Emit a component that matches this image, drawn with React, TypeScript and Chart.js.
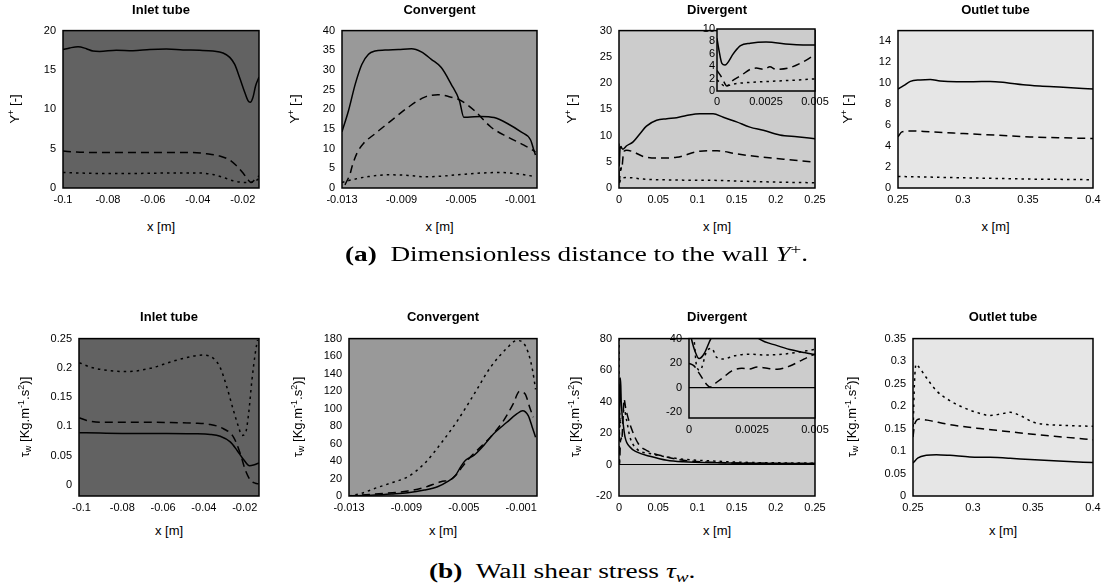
import React, { useEffect, useLayoutEffect, useRef } from "react";
import { Chart, registerables } from "chart.js";

Chart.register(...registerables);
Chart.defaults.font.family = "'Liberation Sans', Arial, sans-serif";
Chart.defaults.color = "#000";

type Pt = [number, number];

// ---------------- DATA ----------------
// Row (a): Y+ ; Row (b): wall shear stress. Each series: [x, value]
const inletYpSolid: Pt[] = [[-0.1,17.6],[-0.097,17.8],[-0.0933,17.95],[-0.0896,17.7],[-0.0867,17.4],[-0.0837,17.35],[-0.0763,17.5],[-0.0689,17.45],[-0.0614,17.6],[-0.054,17.65],[-0.0466,17.55],[-0.0392,17.5],[-0.0333,17.4],[-0.0288,17.15],[-0.0258,16.6],[-0.0236,15.7],[-0.0214,14.0],[-0.0192,12.2],[-0.0177,11.1],[-0.0167,10.9],[-0.0155,11.5],[-0.0143,13.0],[-0.0128,14.1]];
const inletYpDashed: Pt[] = [[-0.1,4.7],[-0.0941,4.57],[-0.0837,4.5],[-0.0689,4.5],[-0.054,4.5],[-0.0422,4.5],[-0.0362,4.35],[-0.0303,4.07],[-0.0258,3.55],[-0.0229,2.85],[-0.0199,1.9],[-0.0177,1.05],[-0.0162,0.7],[-0.0147,1.05],[-0.0128,1.55]];
const inletYpDotted: Pt[] = [[-0.1,1.97],[-0.0837,1.85],[-0.0689,1.85],[-0.054,1.9],[-0.0392,1.9],[-0.0333,1.72],[-0.0288,1.35],[-0.0244,0.92],[-0.0214,0.75],[-0.017,0.7],[-0.0147,0.85],[-0.0128,1.2]];

const convYpSolid: Pt[] = [[-0.013,14.3],[-0.01256,19.7],[-0.01211,26.4],[-0.01167,31.4],[-0.01122,34.0],[-0.01078,34.8],[-0.01011,35.05],[-0.00922,35.2],[-0.00833,35.4],[-0.00767,34.6],[-0.007,32.7],[-0.00633,30.6],[-0.00567,26.4],[-0.00511,22.2],[-0.00482,18.0],[-0.00456,18.0],[-0.00367,18.2],[-0.00278,17.9],[-0.00189,16.4],[-0.001,14.3],[-0.00033,12.2],[-0.00011,9.6],[0,8.4]];
const convYpDashed: Pt[] = [[-0.0128,0.8],[-0.01244,3.8],[-0.01233,5.4],[-0.012,8.8],[-0.01156,11.3],[-0.01078,13.8],[-0.00967,17.2],[-0.00856,20.5],[-0.00744,23.1],[-0.00656,23.7],[-0.00589,23.3],[-0.005,22.2],[-0.00411,19.7],[-0.003,15.5],[-0.00189,13.0],[-0.00078,10.9],[0,9.2]];
const convYpDotted: Pt[] = [[-0.013,1.4],[-0.01233,2.1],[-0.01122,2.9],[-0.00989,3.35],[-0.00856,3.2],[-0.00744,2.85],[-0.00678,2.9],[-0.00522,3.35],[-0.00367,3.8],[-0.00233,3.95],[-0.00122,3.6],[0,2.9]];

const divYpSolid: Pt[] = [[0,8.5],[0.0001,6.6],[0.00025,4.45],[0.0004,4.2],[0.00085,6.1],[0.0012,7.3],[0.0017,7.7],[0.0025,7.9],[0.0037,7.55],[0.005,7.4],[0.0098,8.05],[0.018,8.8],[0.027,10.4],[0.035,11.8],[0.048,12.9],[0.061,13.2],[0.0735,13.4],[0.086,13.8],[0.103,14.15],[0.12,14.15],[0.133,13.5],[0.15,12.6],[0.167,11.6],[0.184,11.0],[0.205,10.1],[0.227,9.75],[0.25,9.4]];
const divYpDashed: Pt[] = [[0,3.3],[0.0002,2.4],[0.0004,1.2],[0.0005,0.8],[0.00076,1.6],[0.00127,2.6],[0.0017,3.5],[0.002,3.7],[0.0024,3.5],[0.0027,3.9],[0.003,3.5],[0.0037,3.75],[0.0044,4.7],[0.005,5.8],[0.0065,7.0],[0.0098,7.2],[0.018,6.9],[0.031,6.0],[0.048,5.7],[0.0735,5.85],[0.103,7.0],[0.125,7.1],[0.15,6.5],[0.176,6.0],[0.21,5.5],[0.25,4.9]];
const divYpDotted: Pt[] = [[0,1.8],[0.0002,1.2],[0.0004,0.8],[0.0007,1.0],[0.001,1.2],[0.0015,1.35],[0.002,1.45],[0.003,1.6],[0.004,1.75],[0.005,1.95],[0.0098,2.0],[0.031,1.7],[0.082,1.5],[0.125,1.45],[0.167,1.25],[0.21,1.1],[0.25,1.0]];

const outYpSolid: Pt[] = [[0.25,9.43],[0.2543,9.75],[0.2595,10.16],[0.267,10.3],[0.2748,10.35],[0.2824,10.2],[0.2952,10.13],[0.308,10.13],[0.3208,10.16],[0.3336,10.03],[0.3463,9.84],[0.3591,9.72],[0.377,9.6],[0.4,9.43]];
const outYpDashed: Pt[] = [[0.25,4.87],[0.253,5.35],[0.2595,5.44],[0.2748,5.35],[0.3004,5.19],[0.3259,5.03],[0.3515,4.87],[0.377,4.78],[0.4,4.72]];
const outYpDotted: Pt[] = [[0.25,1.1],[0.2748,1.04],[0.3004,0.97],[0.3259,0.91],[0.3515,0.85],[0.377,0.82],[0.4,0.79]];

const inletTauSolid: Pt[] = [[-0.101,0.0892],[-0.0909,0.0886],[-0.0745,0.088],[-0.0582,0.088],[-0.0451,0.0875],[-0.0369,0.0863],[-0.032,0.083],[-0.0271,0.0734],[-0.0238,0.0593],[-0.0206,0.0435],[-0.0176,0.0327],[-0.0157,0.0339],[-0.0127,0.0378]];
const inletTauDashed: Pt[] = [[-0.101,0.1146],[-0.0974,0.11],[-0.0909,0.1072],[-0.0745,0.1072],[-0.0582,0.1067],[-0.0451,0.1055],[-0.0369,0.1033],[-0.0304,0.0959],[-0.0255,0.0818],[-0.0222,0.0536],[-0.0197,0.0254],[-0.0173,0.0085],[-0.0148,0.0028],[-0.0132,0.0017]];
const inletTauDotted: Pt[] = [[-0.101,0.2088],[-0.0958,0.2015],[-0.0876,0.1958],[-0.0778,0.1936],[-0.0663,0.1992],[-0.0549,0.2116],[-0.0451,0.2201],[-0.0402,0.2218],[-0.0353,0.2162],[-0.032,0.2004],[-0.0287,0.1665],[-0.0255,0.127],[-0.023,0.0988],[-0.0214,0.0846],[-0.0197,0.0875],[-0.0181,0.1213],[-0.0165,0.1778],[-0.0148,0.2257],[-0.0137,0.248]];

const convTauSolid: Pt[] = [[-0.013,0],[-0.0112,1.1],[-0.01005,2.3],[-0.0089,3.8],[-0.00775,6.8],[-0.00683,10.6],[-0.00614,16.3],[-0.00557,23.8],[-0.00522,33.3],[-0.00488,40.8],[-0.0043,46.5],[-0.00361,57.9],[-0.00292,71.1],[-0.002,84.3],[-0.00131,93.8],[-0.0009,97.6],[-0.00051,91.9],[-0.00023,78.7],[0,67.3]];
const convTauDashed: Pt[] = [[-0.013,0],[-0.0112,2.3],[-0.0089,5.7],[-0.00775,9.8],[-0.0066,16.3],[-0.00591,18.9],[-0.00545,25.7],[-0.00511,33.3],[-0.00465,42.7],[-0.00407,52.2],[-0.00315,67.3],[-0.00223,86.2],[-0.00154,106],[-0.00113,119.5],[-0.00074,117],[-0.0004,101],[-0.00016,90]];
const convTauDotted: Pt[] = [[-0.013,0],[-0.01213,3],[-0.0112,8.7],[-0.01005,15],[-0.0089,22],[-0.00775,37],[-0.0066,60],[-0.00545,86],[-0.0043,116],[-0.00315,147],[-0.002,169],[-0.00131,177.8],[-0.00085,175],[-0.0005,163.4],[-0.0002,143],[0,122]];

const divTauSolid: Pt[] = [[0,50],[0.0001,40],[0.00024,30],[0.0004,24],[0.0006,28],[0.00086,40],[0.0012,50],[0.0017,55],[0.0023,50],[0.0028,40],[0.0035,34.7],[0.004,31.5],[0.0045,29.3],[0.005,27.2],[0.0077,17.4],[0.014,11.1],[0.0225,8],[0.0395,5.25],[0.061,2.7],[0.082,1.7],[0.125,1.05],[0.167,0.84],[0.25,0.63]];
const divTauDashed: Pt[] = [[0,20],[0.0002,18],[0.0004,12],[0.0007,2.7],[0.00083,0.5],[0.0011,4.5],[0.00136,8.5],[0.0017,13.9],[0.0021,16],[0.0024,15.5],[0.0027,17],[0.0031,16],[0.0035,15.2],[0.004,17.9],[0.0044,21.9],[0.0048,26],[0.005,27.8],[0.0064,41.6],[0.0085,36],[0.0098,33],[0.016,22.7],[0.0247,13.2],[0.035,9],[0.061,4.8],[0.082,2.7],[0.125,1.3],[0.167,0.84],[0.25,0.63]];
const divTauDotted: Pt[] = [[0,80],[0.0001,55],[0.0002,40],[0.0003,17.9],[0.00044,14.4],[0.0007,29.9],[0.0009,32.5],[0.0011,25],[0.00136,23.7],[0.0018,26.3],[0.0024,27.6],[0.003,27],[0.0037,27.6],[0.0044,29.5],[0.005,31.6],[0.0065,35],[0.0098,28],[0.014,17.4],[0.0225,10],[0.0395,7],[0.061,4.8],[0.082,3.4],[0.125,2.1],[0.167,1.3],[0.21,1.05],[0.25,0.84]];

const outTauSolid: Pt[] = [[0.25,0.0735],[0.2542,0.0846],[0.2612,0.0904],[0.2695,0.0919],[0.2807,0.0904],[0.2974,0.0868],[0.3141,0.086],[0.3309,0.0838],[0.3476,0.0809],[0.3755,0.0772],[0.4,0.0743]];
const outTauDashed: Pt[] = [[0.25,0.131],[0.2514,0.16],[0.2556,0.171],[0.264,0.1676],[0.2779,0.16],[0.2918,0.1544],[0.3058,0.15],[0.3197,0.146],[0.3336,0.142],[0.3476,0.138],[0.3755,0.131],[0.4,0.125]];
const outTauDotted: Pt[] = [[0.25,0.14],[0.2512,0.25],[0.2525,0.293],[0.2542,0.289],[0.2612,0.263],[0.2695,0.234],[0.2807,0.212],[0.2918,0.197],[0.303,0.186],[0.3141,0.179],[0.3225,0.182],[0.3309,0.186],[0.3393,0.179],[0.3504,0.164],[0.3615,0.159],[0.3755,0.157],[0.4,0.155]];

// Tick values
const inletXTicks = [-0.1, -0.08, -0.06, -0.04, -0.02];
const convXTicks = [-0.013, -0.009, -0.005, -0.001];
const divXTicks = [0, 0.05, 0.1, 0.15, 0.2, 0.25];
const outXTicks = [0.25, 0.3, 0.35, 0.4];
const insetXTicks = [0, 0.0025, 0.005];
const inletYpTicks = [0, 5, 10, 15, 20];
const convYpTicks = [0, 5, 10, 15, 20, 25, 30, 35, 40];
const divYpTicks = [0, 5, 10, 15, 20, 25, 30];
const outYpTicks = [0, 2, 4, 6, 8, 10, 12, 14];
const insetYpTicks = [0, 2, 4, 6, 8, 10];
const inletTauTicks = [0, 0.05, 0.1, 0.15, 0.2, 0.25];
const convTauTicks = [0, 20, 40, 60, 80, 100, 120, 140, 160, 180];
const divTauTicks = [-20, 0, 20, 40, 60, 80];
const outTauTicks = [0, 0.05, 0.1, 0.15, 0.2, 0.25, 0.3, 0.35];
const insetTauTicks = [-20, 0, 20, 40];

const panelTitles = ["Inlet tube", "Convergent", "Divergent", "Outlet tube"];
const panelBg = ["#626262", "#999999", "#cccccc", "#e6e6e6"];
const lineDashes = [[], [8, 5], [2.5, 4]];

// ---------------- CHART ----------------
const decor = {
  id: "decor",
  beforeDatasetsDraw(chart: any, _a: any, opts: any) {
    const { ctx, chartArea: a } = chart;
    ctx.save();
    ctx.fillStyle = opts.bg;
    ctx.fillRect(a.left, a.top, a.right - a.left, a.bottom - a.top);
    if (opts.zero) {
      const y = chart.scales.y.getPixelForValue(0);
      ctx.strokeStyle = "#000";
      ctx.lineWidth = 1.2;
      ctx.beginPath();
      ctx.moveTo(a.left, y);
      ctx.lineTo(a.right, y);
      ctx.stroke();
    }
    ctx.restore();
  },
  afterDatasetsDraw(chart: any) {
    const { ctx, chartArea: a } = chart;
    ctx.save();
    ctx.strokeStyle = "#000";
    ctx.lineWidth = 1.5;
    ctx.strokeRect(a.left, a.top, a.right - a.left, a.bottom - a.top);
    ctx.restore();
  },
};

interface PlotSpec {
  L: number; R: number; T: number; B: number;
  xMin: number; xMax: number; yMin: number; yMax: number;
  xTicks: number[]; yTicks: number[];
  series: Pt[][]; bg: string; zero?: boolean;
  yW?: number; yPad?: number; xPad?: number;
}

const PAD_TOP = 12;
const PAD_RIGHT = 26;
const X_H = 24;

function Plot({ spec }: { spec: PlotSpec }) {
  const ref = useRef<HTMLCanvasElement>(null);
  const yW = spec.yW ?? 42;
  const cw = spec.R - spec.L + yW + PAD_RIGHT;
  const ch = spec.B - spec.T + PAD_TOP + X_H;
  useEffect(() => {
    const chart = new Chart(ref.current as HTMLCanvasElement, {
      type: "line",
      data: {
        datasets: spec.series.map((pts, i) => ({
          data: pts.map(([x, y]) => ({ x, y })),
          borderColor: "#000",
          borderWidth: 1.5,
          borderDash: lineDashes[i],
          pointRadius: 0,
          fill: false,
          cubicInterpolationMode: "monotone",
        })),
      },
      options: {
        responsive: false,
        animation: false,
        devicePixelRatio: 1,
        layout: { padding: { top: PAD_TOP, right: PAD_RIGHT, left: 0, bottom: 0 } },
        plugins: {
          legend: { display: false },
          tooltip: { enabled: false },
          decor: { bg: spec.bg, zero: !!spec.zero },
        },
        scales: {
          x: {
            type: "linear",
            min: spec.xMin,
            max: spec.xMax,
            grid: { display: false, drawTicks: false },
            border: { display: false },
            ticks: {
              font: { size: 11 },
              color: "#000",
              padding: spec.xPad ?? 5,
              autoSkip: false,
              maxRotation: 0,
              callback: (v: any) => String(v),
            },
            afterBuildTicks: (s: any) => {
              s.ticks = spec.xTicks.map((v) => ({ value: v }));
            },
            afterFit: (s: any) => {
              s.height = X_H;
            },
          },
          y: {
            type: "linear",
            min: spec.yMin,
            max: spec.yMax,
            grid: { display: false, drawTicks: false },
            border: { display: false },
            ticks: {
              font: { size: 11 },
              color: "#000",
              padding: spec.yPad ?? 7,
              autoSkip: false,
              callback: (v: any) => String(v),
            },
            afterBuildTicks: (s: any) => {
              s.ticks = spec.yTicks.map((v) => ({ value: v }));
            },
            afterFit: (s: any) => {
              s.width = yW;
            },
          },
        },
      } as any,
      plugins: [decor as any],
    });
    return () => chart.destroy();
  }, []);
  return (
    <canvas
      ref={ref}
      width={cw}
      height={ch}
      style={{ position: "absolute", left: spec.L - yW, top: spec.T - PAD_TOP, width: cw, height: ch }}
    />
  );
}

const TOP_T = 29, TOP_B = 188, BOT_T = 337, BOT_B = 496;

const plots: PlotSpec[] = [
  { L: 63, R: 259, T: TOP_T, B: TOP_B, xMin: -0.1, xMax: -0.0128, yMin: 0, yMax: 20, xTicks: inletXTicks, yTicks: inletYpTicks, series: [inletYpSolid, inletYpDashed, inletYpDotted], bg: panelBg[0] },
  { L: 342, R: 537, T: TOP_T, B: TOP_B, xMin: -0.013, xMax: 0.0001, yMin: 0, yMax: 40, xTicks: convXTicks, yTicks: convYpTicks, series: [convYpSolid, convYpDashed, convYpDotted], bg: panelBg[1] },
  { L: 619, R: 815, T: TOP_T, B: TOP_B, xMin: 0, xMax: 0.25, yMin: 0, yMax: 30, xTicks: divXTicks, yTicks: divYpTicks, series: [divYpSolid, divYpDashed, divYpDotted], bg: panelBg[2] },
  { L: 898, R: 1093, T: TOP_T, B: TOP_B, xMin: 0.25, xMax: 0.4, yMin: 0, yMax: 15, xTicks: outXTicks, yTicks: outYpTicks, series: [outYpSolid, outYpDashed, outYpDotted], bg: panelBg[3] },
  { L: 79, R: 259, T: BOT_T, B: BOT_B, xMin: -0.1012, xMax: -0.013, yMin: -0.019, yMax: 0.25, xTicks: inletXTicks, yTicks: inletTauTicks, series: [inletTauSolid, inletTauDashed, inletTauDotted], bg: panelBg[0] },
  { L: 349, R: 537, T: BOT_T, B: BOT_B, xMin: -0.013, xMax: 0.0001, yMin: 0, yMax: 180, xTicks: convXTicks, yTicks: convTauTicks, series: [convTauSolid, convTauDashed, convTauDotted], bg: panelBg[1] },
  { L: 619, R: 815, T: BOT_T, B: BOT_B, xMin: 0, xMax: 0.25, yMin: -20, yMax: 80, xTicks: divXTicks, yTicks: divTauTicks, series: [divTauSolid, divTauDashed, divTauDotted], bg: panelBg[2], zero: true },
  { L: 913, R: 1093, T: BOT_T, B: BOT_B, xMin: 0.25, xMax: 0.4, yMin: 0, yMax: 0.35, xTicks: outXTicks, yTicks: outTauTicks, series: [outTauSolid, outTauDashed, outTauDotted], bg: panelBg[3] },
];

const insets: PlotSpec[] = [
  { L: 717, R: 815, T: 29, B: 91, xMin: 0, xMax: 0.005, yMin: 0, yMax: 10, xTicks: insetXTicks, yTicks: insetYpTicks, series: [divYpSolid, divYpDashed, divYpDotted], bg: panelBg[2], yW: 24, yPad: 2, xPad: 4 },
  { L: 689, R: 815, T: 337, B: 418, xMin: 0, xMax: 0.005, yMin: -25, yMax: 40.5, xTicks: insetXTicks, yTicks: insetTauTicks, series: [divTauSolid, divTauDashed, divTauDotted], bg: panelBg[2], zero: true, yW: 34, yPad: 7, xPad: 5 },
];

const sans = "'Liberation Sans', Arial, sans-serif";
const supStyle: React.CSSProperties = { fontSize: "0.7em", verticalAlign: "0.5em", lineHeight: 0 };
const subStyle: React.CSSProperties = { fontSize: "0.7em", verticalAlign: "-0.25em", lineHeight: 0 };

function HText({ cx, cy, bold, children }: any) {
  return (
    <div style={{ position: "absolute", left: cx - 100, top: cy - 9, width: 200, height: 18, lineHeight: "18px", textAlign: "center", fontFamily: sans, fontSize: 13, fontWeight: bold ? "bold" : "normal", whiteSpace: "nowrap", color: "#000" }}>
      {children}
    </div>
  );
}

function VText({ cx, cy, children }: any) {
  return (
    <div style={{ position: "absolute", left: cx - 100, top: cy - 9, width: 200, height: 18, lineHeight: "18px", textAlign: "center", fontFamily: sans, fontSize: 13, whiteSpace: "nowrap", transform: "rotate(-90deg)", color: "#000" }}>
      {children}
    </div>
  );
}

function Caption({ cx, cy, width, children }: any) {
  const ref = useRef<HTMLDivElement>(null);
  useLayoutEffect(() => {
    const el = ref.current as HTMLDivElement;
    const w = el.offsetWidth;
    el.style.left = cx - width / 2 + "px";
    el.style.transform = `scaleX(${width / w})`;
  }, []);
  return (
    <div ref={ref} style={{ position: "absolute", left: cx - width / 2, top: cy - 13, height: 26, lineHeight: "26px", fontFamily: "'Liberation Serif', 'DejaVu Serif', serif", fontSize: 20, whiteSpace: "nowrap", transformOrigin: "0 50%", color: "#000" }}>
      {children}
    </div>
  );
}

const yplusLabel = (
  <span>Y<sup style={supStyle}>+</sup> [-]</span>
);
const tauLabel = (
  <span>τ<sub style={subStyle}>w</sub> [Kg.m<sup style={supStyle}>-1</sup>.s<sup style={supStyle}>2</sup>)]</span>
);

const topYTitleX = [15, 295, 572, 848];
const botYTitleX = [25, 298, 575, 852];

export default function App() {
  return (
    <div style={{ position: "absolute", left: 0, top: 0, width: 1104, height: 586, background: "#fff", overflow: "hidden" }}>
      {plots.map((p, i) => (
        <Plot key={"p" + i} spec={p} />
      ))}
      {insets.map((p, i) => (
        <Plot key={"i" + i} spec={p} />
      ))}
      {plots.map((p, i) => (
        <HText key={"t" + i} cx={(p.L + p.R) / 2} cy={i < 4 ? 10 : 317} bold>
          {panelTitles[i % 4]}
        </HText>
      ))}
      {plots.map((p, i) => (
        <HText key={"x" + i} cx={(p.L + p.R) / 2} cy={i < 4 ? 227 : 531}>
          x [m]
        </HText>
      ))}
      {plots.map((p, i) => (
        <VText key={"y" + i} cx={i < 4 ? topYTitleX[i] : botYTitleX[i - 4]} cy={(p.T + p.B) / 2}>
          {i < 4 ? yplusLabel : tauLabel}
        </VText>
      ))}
      <Caption cx={576} cy={254} width={463}>
        <b>(a)</b>&nbsp; Dimensionless distance to the wall <i>Y</i>
        <sup style={supStyle}>+</sup>.
      </Caption>
      <Caption cx={562} cy={571} width={267}>
        <b>(b)</b>&nbsp; Wall shear stress <i>τ</i>
        <sub style={subStyle}><i>w</i></sub>.
      </Caption>
    </div>
  );
}
